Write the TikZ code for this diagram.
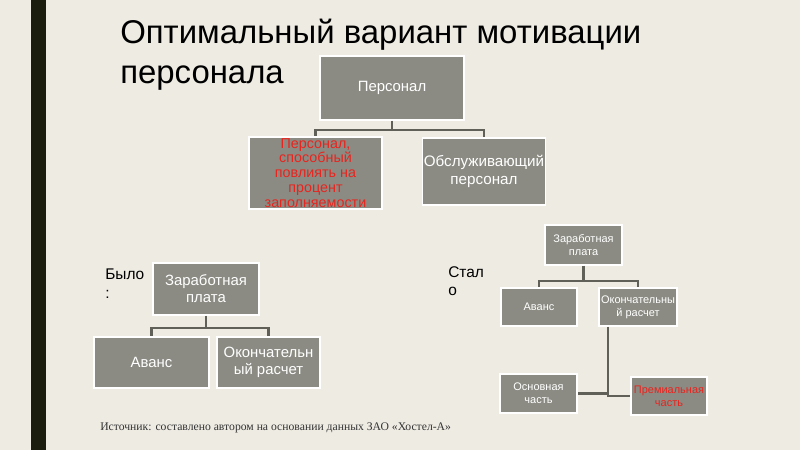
\documentclass[tikz,border=0pt]{standalone}
\usepackage{fontspec}
\setmainfont{Liberation Sans}
\newfontfamily\srcfont{Liberation Serif}
\definecolor{slidebg}{RGB}{238,235,227}
\definecolor{barcol}{RGB}{27,27,14}
\definecolor{boxgray}{RGB}{139,139,131}
\definecolor{linkgray}{RGB}{96,96,88}
\definecolor{hotred}{RGB}{232,36,30}
\begin{document}
\begin{tikzpicture}[
			x=0.025cm, y=-0.025cm,
			title/.style={anchor=base west, inner sep=0, font=\fontsize{23.4}{28}\selectfont, text=black},
			box/.style={rectangle, draw=white, line width=1.2pt, fill=boxgray, text=white, align=center, inner sep=1pt},
			bigbox/.style={box, font=\fontsize{10.6}{12}\selectfont},
			smallbox/.style={box, font=\fontsize{7.8}{9}\selectfont},
			hot/.style={text=hotred},
			side/.style={anchor=north west, inner sep=0, align=left, font=\fontsize{11}{13}\selectfont},
			link/.style={draw=linkgray, line width=1.5pt}
		]
		\useasboundingbox (0,0) rectangle (800,450);
		\fill[slidebg] (0,0) rectangle (800,450);
		\fill[barcol] (31,0) rectangle (46,450);

		% Заголовок
		\node[title] (title) at (120,43) {Оптимальный вариант мотивации};
		\node[title] (title2) at (120,83) {персонала};

		% Персонал
		\node[bigbox, minimum width=3.6cm, minimum height=1.6cm] (pers) at (392,88) {Персонал};
		\node[bigbox, hot, minimum width=3.325cm, minimum height=1.75cm, font=\fontsize{10.2}{10.6}\selectfont] (infl) at (315.5,173) {Персонал,\\способный\\повлиять на\\процент\\заполняемости};
		\node[bigbox, minimum width=3.05cm, minimum height=1.675cm, font=\fontsize{10.8}{12.2}\selectfont] (serv) at (484,171.5) {Обслуживающий\\персонал};
		\draw[link] (pers.south) -- ++(0,9) -| (infl.north);
		\draw[link] (pers.south) -- ++(0,9) -| (serv.north);

		% Было
		\node[side] (was) at (105,269) {Было\\:};
		\node[bigbox, minimum width=2.65cm, minimum height=1.3cm] (wasPay) at (206,289) {Заработная\\плата};
		\node[bigbox, minimum width=2.875cm, minimum height=1.275cm] (wasAdv) at (151.5,362.5) {Аванс};
		\node[bigbox, minimum width=2.575cm, minimum height=1.275cm] (wasFin) at (268.5,362.5) {Окончательн\\ый расчет};
		\draw[link] (wasPay.south) -- ++(0,12) -| (wasAdv.north);
		\draw[link] (wasPay.south) -- ++(0,12) -| (wasFin.north);

		% Стало
		\node[side] (now) at (448,266) {Стал\\о};
		\node[smallbox, minimum width=1.925cm, minimum height=1cm] (nowPay) at (583.5,245) {Заработная\\плата};
		\node[smallbox, minimum width=1.9cm, minimum height=0.95cm] (nowAdv) at (539,307) {Аванс};
		\node[smallbox, minimum width=1.95cm, minimum height=0.95cm] (nowFin) at (638,307) {Окончательны\\й расчет};
		\node[smallbox, minimum width=1.925cm, minimum height=0.975cm] (base) at (538.5,393.5) {Основная\\часть};
		\node[smallbox, hot, minimum width=1.9cm, minimum height=0.95cm] (bonus) at (669,396) {Премиальная\\часть};
		\draw[link] (nowPay.south) -- ++(0,15) -| (nowAdv.north);
		\draw[link] (nowPay.south) -- ++(0,15) -| (nowFin.north);
		\draw[link] ([xshift=-0.75cm]nowFin.south) |- (base.east);
		\draw[link] ([xshift=-0.75cm]nowFin.south) |- (bonus.west);

		% Источник
		\node[anchor=base west, inner sep=0, font=\srcfont\fontsize{8.3}{10}\selectfont, text=black!80] (src) at (100,430) {Источник: составлено автором на основании данных ЗАО «Хостел-А»};
	\end{tikzpicture}
\end{document}
